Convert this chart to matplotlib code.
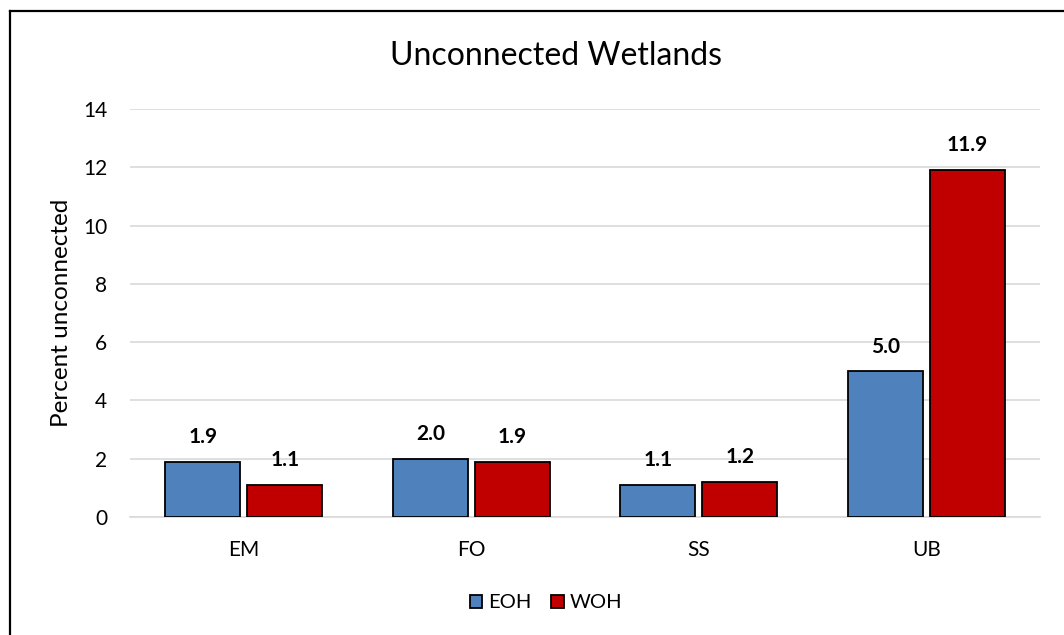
import matplotlib
matplotlib.use("Agg")
import matplotlib.pyplot as plt
import numpy as np
from matplotlib.lines import Line2D

categories = ["EM", "FO", "SS", "UB"]
eoh = [1.9, 2.0, 1.1, 5.0]
woh = [1.1, 1.9, 1.2, 11.9]
series_names = ["EOH", "WOH"]
yticks = [0, 2, 4, 6, 8, 10, 12, 14]

plt.rcParams['font.family'] = ['Lato', 'DejaVu Sans']

W, H = 1064, 635
fig = plt.figure(figsize=(W / 100, H / 100), dpi=100)
ax = fig.add_axes([130 / W, 1 - 517 / H, 910 / W, 408 / H])

# chart border (top and left edges)
fig.lines.append(Line2D([9.5 / W, 1.0], [1 - 10.5 / H, 1 - 10.5 / H],
                        transform=fig.transFigure, color="black", linewidth=1.6))
fig.lines.append(Line2D([9.5 / W, 9.5 / W], [0.0, 1 - 10.5 / H],
                        transform=fig.transFigure, color="black", linewidth=1.6))

x = np.arange(len(categories))
w = 0.33
gap = 0.015
b1 = ax.bar(x - w / 2 - gap, eoh, width=w, color="#4F81BD", edgecolor="black",
            linewidth=1.3, label=series_names[0], zorder=3)
b2 = ax.bar(x + w / 2 + gap, woh, width=w, color="#C00000", edgecolor="black",
            linewidth=1.3, label=series_names[1], zorder=3)

for bars, vals in ((b1, eoh), (b2, woh)):
    for rect, v in zip(bars, vals):
        ax.annotate(f"{v:.1f}", (rect.get_x() + rect.get_width() / 2, v),
                    xytext=(0, 13.5), textcoords="offset points",
                    ha="center", va="baseline", fontsize=15, fontweight="bold")

ax.set_xlim(-0.5, len(categories) - 0.5)
ax.set_ylim(0, 14)
ax.set_yticks(yticks)
ax.set_xticks(x)
ax.set_xticklabels(categories)
ax.tick_params(axis="both", length=0, labelsize=15)
ax.tick_params(axis="y", pad=16.5)
ax.tick_params(axis="x", pad=16.5)
ax.grid(axis="y", color="#d9d9d9", linewidth=1.2, zorder=0)
for s in ("top", "right", "left"):
    ax.spines[s].set_visible(False)
ax.spines["bottom"].set_color("#d9d9d9")
ax.spines["bottom"].set_linewidth(1.2)

fig.text(61 / W, 1 - 313 / H, "Percent unconnected", rotation=90,
         ha="center", va="center", fontsize=17.5)
fig.text(556 / W, 1 - 65 / H, "Unconnected Wetlands", ha="center",
         va="baseline", fontsize=23)

fig.legend(handles=[b1, b2], labels=series_names, loc="center",
           bbox_to_anchor=(546 / W, 1 - 603 / H), ncol=2, frameon=False,
           fontsize=14.5, handlelength=0.6, handleheight=0.6,
           handletextpad=0.3, columnspacing=1.0)

fig.savefig("out.png", dpi=100)
